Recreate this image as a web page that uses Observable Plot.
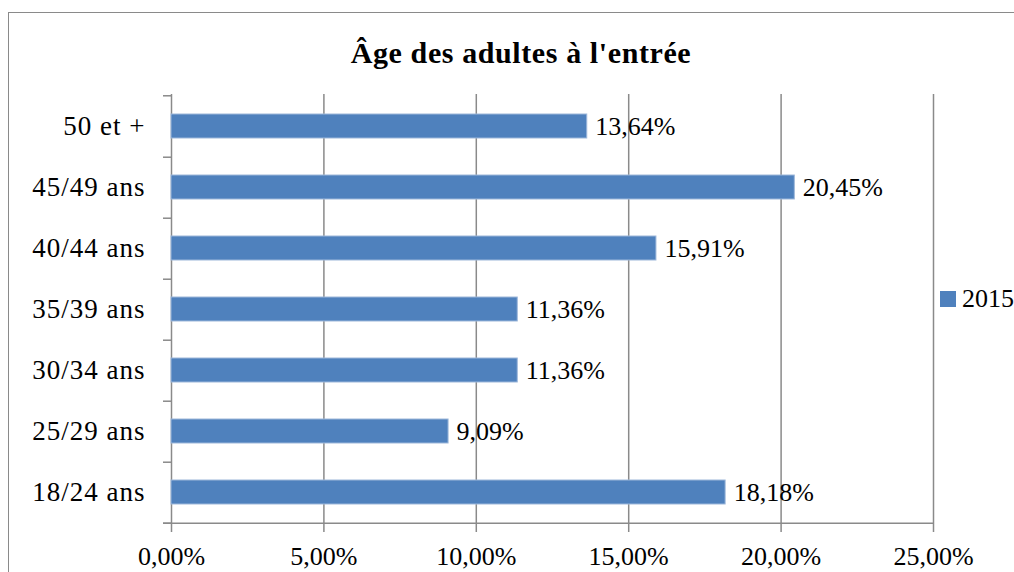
<!DOCTYPE html>
<html><head><meta charset="utf-8">
<script src="https://cdn.jsdelivr.net/npm/d3@7"></script>
<script src="https://cdn.jsdelivr.net/npm/@observablehq/plot@0.6"></script>
<style>
body{margin:0;background:#fff;overflow:hidden;}
#wrap{position:relative;width:1014px;height:572px;overflow:hidden;font-family:"Liberation Serif",serif;}
#border{position:absolute;left:8px;top:12px;width:1200px;height:800px;border:1.5px solid #8a8a8a;box-sizing:border-box;}
#title{position:absolute;left:0;top:38px;width:1042px;text-align:center;font-weight:bold;font-size:30px;letter-spacing:0.6px;line-height:1;color:#000;}
#chart{position:absolute;left:0;top:0;}
#legend{position:absolute;left:940px;top:284px;font-size:26px;line-height:30px;display:flex;align-items:center;color:#000;}
#legend span.sw{display:inline-block;width:16px;height:16px;background:#4F81BD;margin-right:6px;}
.ylab text{letter-spacing:1px;}
</style></head>
<body>
<div id="wrap">
<div id="border"></div>
<div id="chart"></div>
<div id="title">Âge des adultes à l'entrée</div>
<div id="legend"><span class="sw"></span><span>2015</span></div>
</div>
<script>
const categories = ["50 et +", "45/49 ans", "40/44 ans", "35/39 ans", "30/34 ans", "25/29 ans", "18/24 ans"];
const values2015 = [13.64, 20.45, 15.91, 11.36, 11.36, 9.09, 18.18];
const xTicks = [0, 5, 10, 15, 20, 25];
const seriesName = "2015";

const data = categories.map((c, i) => ({cat: c, v: values2015[i]}));
const fmt = d => d.toFixed(2).replace(".", ",") + "%";
const W = 1014, H = 572, mL = 171, mR = 81, mT = 94, mB = 48;
const step = (H - mT - mB) / categories.length;
const grid = "#8a8a8a";
const xPerPx = 25 / (W - mL - mR);

const chart = Plot.plot({
  width: W, height: H,
  marginLeft: mL, marginRight: mR, marginTop: mT, marginBottom: mB,
  style: {fontFamily: "'Liberation Serif', serif", fontSize: "26px", color: "#000", background: "transparent"},
  x: {domain: [0, 25], ticks: xTicks, tickFormat: fmt, label: null},
  y: {domain: categories, paddingInner: 0.61, paddingOuter: 0.305, label: null},
  marks: [
    Plot.ruleX(xTicks.filter(d => d > 0), {stroke: grid, strokeWidth: 1.5}),
    Plot.ruleX([0], {stroke: grid, strokeWidth: 1.5}),
    Plot.ruleY([categories[0]], {x1: -8 * xPerPx, x2: 0, dy: -step / 2, stroke: grid, strokeWidth: 1.5}),
    Plot.ruleY(categories, {x1: -8 * xPerPx, x2: 0, dy: step / 2, stroke: grid, strokeWidth: 1.5}),
    Plot.ruleY([categories[categories.length - 1]], {x1: -8 * xPerPx, x2: 25, dy: step / 2, stroke: grid, strokeWidth: 1.5}),
    Plot.barX(data, {x: "v", y: "cat", fill: "#4F81BD", stroke: "#9DB7DA", strokeWidth: 1}),
    Plot.text(data, {x: "v", y: "cat", text: d => fmt(d.v), textAnchor: "start", dx: 8, fontSize: 26, fill: "#000"}),
    Plot.axisX({ticks: xTicks, tickFormat: fmt, tickSize: 8, tickPadding: 14, stroke: grid, strokeWidth: 1.5, fontSize: 26, label: null}),
    Plot.axisY({tickSize: 0, tickPadding: 26, fontSize: 27, label: null, className: "ylab"})
  ]
});
document.getElementById("chart").appendChild(chart);
</script>
</body></html>
